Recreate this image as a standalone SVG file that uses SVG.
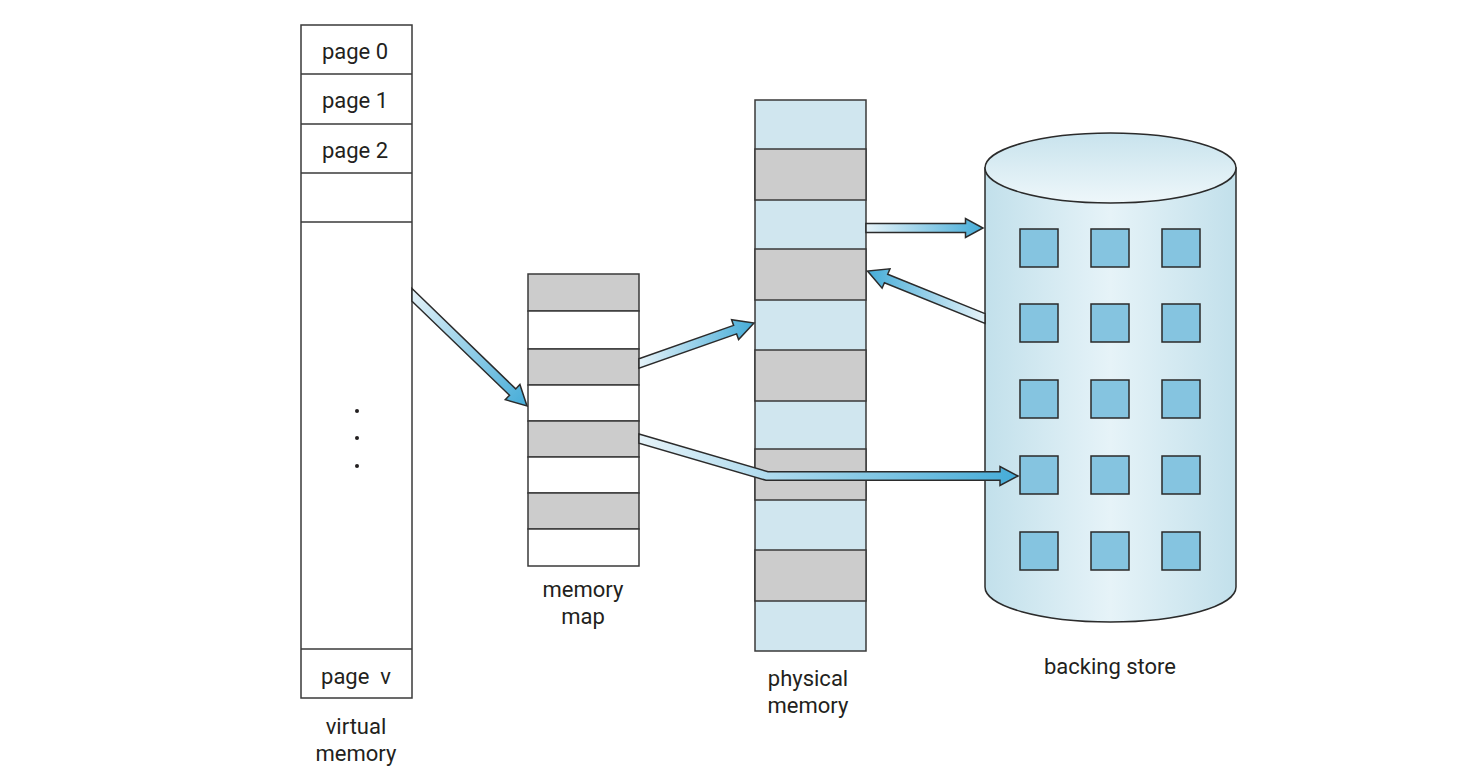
<svg xmlns="http://www.w3.org/2000/svg" width="1468" height="775" viewBox="0 0 1468 775">
<style>
.lbl{font-family:Roboto,"Open Sans",sans-serif;font-size:22px;fill:#231f20;text-anchor:middle}
.cell{stroke:#3a3a3a;stroke-width:1.5}
.w{fill:#ffffff}
.g{fill:#cccccc}
.lb{fill:#d0e6ef}
.sq{fill:#85c4e0;stroke:#2a2a2a;stroke-width:1.5}
.arr{stroke:#2b2b2b;stroke-width:1.5;stroke-linejoin:miter}
</style>
<defs>
<linearGradient id="gR" x1="0" y1="0" x2="1" y2="0"><stop offset="0" stop-color="#e6f3f9"/><stop offset="1" stop-color="#45acd8"/></linearGradient>
<linearGradient id="gL" x1="1" y1="0" x2="0" y2="0"><stop offset="0" stop-color="#e6f3f9"/><stop offset="1" stop-color="#45acd8"/></linearGradient>
<linearGradient id="gD" x1="0" y1="0" x2="1" y2="1"><stop offset="0" stop-color="#e6f3f9"/><stop offset="1" stop-color="#45acd8"/></linearGradient>
<linearGradient id="cyl" x1="0" y1="0" x2="1" y2="0"><stop offset="0" stop-color="#c2e0eb"/><stop offset="0.5" stop-color="#e6f3f8"/><stop offset="1" stop-color="#c2e0eb"/></linearGradient>
<linearGradient id="cylTop" x1="0" y1="0" x2="0" y2="1"><stop offset="0" stop-color="#c8e3ed"/><stop offset="1" stop-color="#eef7fa"/></linearGradient>
</defs>

<g id="virtual-memory">
<rect class="cell w" x="301" y="25" width="111" height="673"/>
<line class="cell" x1="301" y1="74" x2="412" y2="74"/>
<line class="cell" x1="301" y1="124" x2="412" y2="124"/>
<line class="cell" x1="301" y1="173" x2="412" y2="173"/>
<line class="cell" x1="301" y1="222" x2="412" y2="222"/>
<line class="cell" x1="301" y1="649" x2="412" y2="649"/>
<text class="lbl" x="355" y="59">page 0</text>
<text class="lbl" x="355" y="108">page 1</text>
<text class="lbl" x="355" y="158">page 2</text>
<text class="lbl" x="356" y="684" style="white-space:pre">page  v</text>
<circle cx="357" cy="411" r="2" fill="#231f20"/>
<circle cx="357" cy="438" r="2" fill="#231f20"/>
<circle cx="357" cy="466" r="2" fill="#231f20"/>
<text class="lbl" x="356" y="734">virtual<tspan x="356" dy="27">memory</tspan></text>
</g>

<g id="memory-map">
<rect class="cell g" x="528" y="274" width="111" height="37"/>
<rect class="cell w" x="528" y="311" width="111" height="38"/>
<rect class="cell g" x="528" y="349" width="111" height="36"/>
<rect class="cell w" x="528" y="385" width="111" height="36"/>
<rect class="cell g" x="528" y="421" width="111" height="36"/>
<rect class="cell w" x="528" y="457" width="111" height="36"/>
<rect class="cell g" x="528" y="493" width="111" height="36"/>
<rect class="cell w" x="528" y="529" width="111" height="37"/>
<text class="lbl" x="583" y="597">memory<tspan x="583" dy="27">map</tspan></text>
</g>

<g id="physical-memory">
<rect class="cell lb" x="755" y="100" width="111" height="551"/>
<rect class="cell g" x="755" y="149" width="111" height="51"/>
<rect class="cell g" x="755" y="249" width="111" height="51"/>
<rect class="cell g" x="755" y="350" width="111" height="51"/>
<rect class="cell g" x="755" y="449" width="111" height="51"/>
<rect class="cell g" x="755" y="550" width="111" height="51"/>
<text class="lbl" x="808" y="686">physical<tspan x="808" dy="27">memory</tspan></text>
</g>

<g id="backing-store">
<path d="M985,168 L985,587 A125.5,35 0 0 0 1236,587 L1236,168 Z" fill="url(#cyl)" stroke="#2b2b2b" stroke-width="1.5"/>
<ellipse cx="1110.5" cy="168" rx="125.5" ry="35" fill="url(#cylTop)" stroke="#2b2b2b" stroke-width="1.5"/>
<rect class="sq" x="1020" y="229" width="38" height="38"/>
<rect class="sq" x="1091" y="229" width="38" height="38"/>
<rect class="sq" x="1162" y="229" width="38" height="38"/>
<rect class="sq" x="1020" y="304" width="38" height="38"/>
<rect class="sq" x="1091" y="304" width="38" height="38"/>
<rect class="sq" x="1162" y="304" width="38" height="38"/>
<rect class="sq" x="1020" y="380" width="38" height="38"/>
<rect class="sq" x="1091" y="380" width="38" height="38"/>
<rect class="sq" x="1162" y="380" width="38" height="38"/>
<rect class="sq" x="1020" y="456" width="38" height="38"/>
<rect class="sq" x="1091" y="456" width="38" height="38"/>
<rect class="sq" x="1162" y="456" width="38" height="38"/>
<rect class="sq" x="1020" y="532" width="38" height="38"/>
<rect class="sq" x="1091" y="532" width="38" height="38"/>
<rect class="sq" x="1162" y="532" width="38" height="38"/>
<text class="lbl" x="1110" y="674">backing store</text>
</g>

<g id="connectors">
<polygon class="arr" fill="url(#gD)" points="412,288.5 515.7,388.9 519.9,384.5 527,406 505.3,399.7 509.5,395.3 412,301.2"/>
<polygon class="arr" fill="url(#gR)" points="639,358.8 733.6,325.4 731.6,319.7 754,323 738.6,339.5 736.6,333.9 639,368.3"/>
<polygon class="arr" fill="url(#gR)" points="866,223.5 965.5,223.5 965.5,218.5 983,228 965.5,237.5 965.5,232.5 866,232.5"/>
<polygon class="arr" fill="url(#gL)" points="985,313.6 887.7,274.3 890,268.8 867.5,271 882.1,288.2 884.4,282.7 985,323.4"/>
<polygon class="arr" fill="url(#gR)" points="639,434 768,471.7 1000,471.7 1000,466.5 1018,476 1000,485.5 1000,480.3 766,480.3 639,443.3"/>
</g>
</svg>
